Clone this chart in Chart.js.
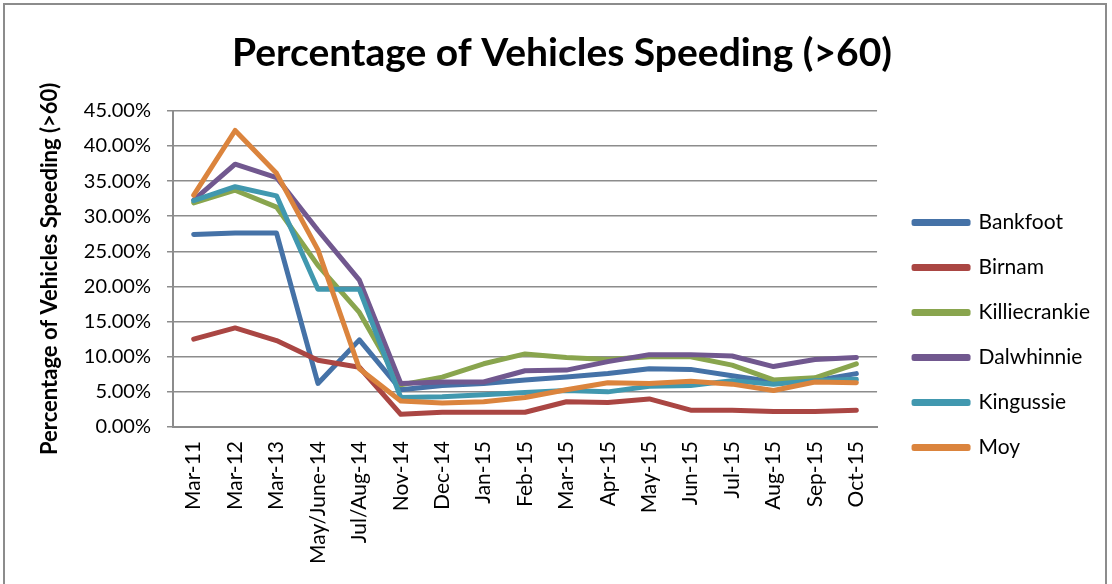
<!DOCTYPE html>
<html>
<head>
<meta charset="utf-8">
<title>Percentage of Vehicles Speeding (>60)</title>
<script src="https://cdn.jsdelivr.net/npm/chart.js@4.4.0/dist/chart.umd.min.js"></script>
<style>
  html, body { margin: 0; padding: 0; background: #fff; overflow: hidden; }
  #wrap { position: relative; width: 1112px; height: 584px; }
  #frame {
    position: absolute; left: 3px; top: 3px; width: 1104px; height: 620px;
    border: 2px solid #8c8c8c; box-sizing: border-box; pointer-events: none;
  }
</style>
</head>
<body>
<div id="wrap">
  <canvas id="speedChart" width="1112" height="584"></canvas>
  <div id="frame"></div>
</div>
<script>
// survey periods along the x axis
const periods = ["Mar-11", "Mar-12", "Mar-13", "May/June-14", "Jul/Aug-14", "Nov-14", "Dec-14",
  "Jan-15", "Feb-15", "Mar-15", "Apr-15", "May-15", "Jun-15", "Jul-15", "Aug-15", "Sep-15", "Oct-15"];

// % of vehicles over 60
const bankfoot      = [27.4, 27.6, 27.6, 6.2, 12.4, 5.3, 5.9, 6.2, 6.7, 7.1, 7.6, 8.3, 8.2, 7.3, 6.4, 6.6, 7.6];
const birnam        = [12.5, 14.1, 12.3, 9.5, 8.5, 1.8, 2.1, 2.1, 2.1, 3.6, 3.5, 4.0, 2.4, 2.4, 2.2, 2.2, 2.4];
const killiecrankie = [31.9, 33.7, 31.3, 23.0, 16.3, 6.0, 7.1, 9.0, 10.4, 9.9, 9.6, 10.0, 10.0, 8.8, 6.7, 7.0, 9.0];
const dalwhinnie    = [32.3, 37.4, 35.5, 28.0, 20.9, 6.2, 6.4, 6.4, 8.0, 8.1, 9.3, 10.3, 10.3, 10.1, 8.6, 9.6, 9.9];
const kingussie     = [32.2, 34.2, 32.9, 19.6, 19.6, 4.2, 4.3, 4.6, 4.9, 5.2, 5.0, 5.8, 5.9, 6.6, 6.1, 6.6, 6.8];
const moy           = [33.0, 42.2, 36.1, 25.2, 8.3, 3.7, 3.4, 3.6, 4.2, 5.3, 6.3, 6.2, 6.5, 6.1, 5.2, 6.4, 6.3];

// y axis: 0% to 45% in 5% steps
const yMin = 0;
const yMax = 45;
const yStep = 5;

const siteNames = ["Bankfoot", "Birnam", "Killiecrankie", "Dalwhinnie", "Kingussie", "Moy"];
const siteValues = [bankfoot, birnam, killiecrankie, dalwhinnie, kingussie, moy];
const siteColours = ["#4572A7", "#AA4643", "#89A54E", "#71588F", "#4198AF", "#DB843D"];

const FONT = "Lato, 'DejaVu Sans', sans-serif";

const datasets = siteNames.map((name, i) => ({
  label: name,
  data: siteValues[i],
  borderColor: siteColours[i],
  backgroundColor: siteColours[i],
  borderWidth: 5,
  borderJoinStyle: "round",
  borderCapStyle: "round",
  pointRadius: 0,
  pointHoverRadius: 0,
  tension: 0,
  fill: false,
  order: siteNames.length - i, // later series painted on top, like Excel
}));

// nudge the legend block to where Excel put it (a bit right and lower)
const legendNudge = {
  id: "legendNudge",
  afterLayout(chart) {
    const lg = chart.legend;
    if (!lg) return;
    lg.left += 13; lg.right += 13;
    lg.top += 43; lg.bottom += 43;
  },
};

new Chart(document.getElementById("speedChart"), {
  type: "line",
  data: { labels: periods, datasets: datasets },
  plugins: [legendNudge],
  options: {
    responsive: false,
    animation: false,
    events: [],
    layout: { padding: { left: 37, right: 25, top: 0, bottom: 0 } },
    plugins: {
      title: {
        display: true,
        text: "Percentage of Vehicles Speeding (>60)",
        color: "#000",
        font: { family: FONT, size: 39, weight: "bold" },
        padding: { top: 30, bottom: 34 },
      },
      legend: {
        position: "right",
        labels: {
          color: "#000",
          font: { family: FONT, size: 21 },
          boxWidth: 54,
          boxHeight: 2,
          padding: 24,
          sort: (a, b) => a.datasetIndex - b.datasetIndex,
        },
      },
      tooltip: { enabled: false },
    },
    scales: {
      x: {
        offset: true,
        grid: { display: false, drawTicks: false },
        border: { display: true, color: "#8c8c8c", width: 2 },
        ticks: {
          color: "#000",
          font: { family: FONT, size: 21 },
          minRotation: 90,
          maxRotation: 90,
          padding: 14,
          autoSkip: false,
        },
        afterFit: (scale) => { scale.height = 157; },
      },
      y: {
        min: yMin,
        max: yMax,
        ticks: {
          stepSize: yStep,
          color: "#000",
          font: { family: FONT, size: 20 },
          padding: 16,
          callback: (v) => v.toFixed(2) + "%",
        },
        grid: { color: "#8c8c8c", lineWidth: 1.5, tickLength: 6 },
        border: { display: true, color: "#8c8c8c", width: 2 },
        title: {
          display: true,
          text: "Percentage of Vehicles Speeding (>60)",
          color: "#000",
          font: { family: FONT, size: 22, weight: "bold" },
          padding: { top: 0, bottom: 0 },
        },
        afterFit: (scale) => { scale.width = 136; },
      },
    },
  },
});
</script>
</body>
</html>
